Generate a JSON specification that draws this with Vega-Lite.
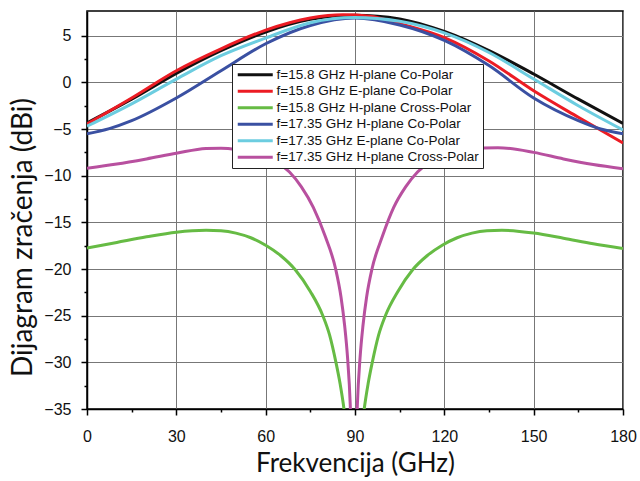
{
  "$schema": "https://vega.github.io/schema/vega-lite/v6.json",
  "width": 536,
  "height": 398,
  "autosize": "none",
  "padding": {"left": 87, "top": 11, "right": 17, "bottom": 72},
  "background": "white",
  "config": {
    "view": {"stroke": "black", "strokeWidth": 1.5},
    "axis": {
      "labelFont": "Liberation Sans",
      "labelFontSize": 16,
      "labelColor": "#111",
      "titleFont": "Lato",
      "titleFontSize": 26,
      "titleFontWeight": "normal",
      "titleColor": "#111",
      "domainColor": "black",
      "domainWidth": 1.5,
      "tickColor": "black",
      "tickWidth": 1.5,
      "gridColor": "#777777",
      "gridWidth": 1
    }
  },
  "data": {
    "values": [
      {"s": "f=15.8 GHz H-plane Co-Polar", "x": 0, "y": -4.35},
      {"s": "f=15.8 GHz H-plane Co-Polar", "x": 15, "y": -1.8},
      {"s": "f=15.8 GHz H-plane Co-Polar", "x": 30, "y": 0.97},
      {"s": "f=15.8 GHz H-plane Co-Polar", "x": 45, "y": 3.4},
      {"s": "f=15.8 GHz H-plane Co-Polar", "x": 60, "y": 5.4},
      {"s": "f=15.8 GHz H-plane Co-Polar", "x": 75, "y": 6.75},
      {"s": "f=15.8 GHz H-plane Co-Polar", "x": 90, "y": 7.2},
      {"s": "f=15.8 GHz H-plane Co-Polar", "x": 105, "y": 6.8},
      {"s": "f=15.8 GHz H-plane Co-Polar", "x": 120, "y": 5.45},
      {"s": "f=15.8 GHz H-plane Co-Polar", "x": 135, "y": 3.4},
      {"s": "f=15.8 GHz H-plane Co-Polar", "x": 150, "y": 0.9},
      {"s": "f=15.8 GHz H-plane Co-Polar", "x": 165, "y": -1.8},
      {"s": "f=15.8 GHz H-plane Co-Polar", "x": 180, "y": -4.4},

      {"s": "f=15.8 GHz E-plane Co-Polar", "x": 0, "y": -4.45},
      {"s": "f=15.8 GHz E-plane Co-Polar", "x": 15, "y": -1.67},
      {"s": "f=15.8 GHz E-plane Co-Polar", "x": 30, "y": 1.25},
      {"s": "f=15.8 GHz E-plane Co-Polar", "x": 45, "y": 3.6},
      {"s": "f=15.8 GHz E-plane Co-Polar", "x": 60, "y": 5.6},
      {"s": "f=15.8 GHz E-plane Co-Polar", "x": 75, "y": 6.9},
      {"s": "f=15.8 GHz E-plane Co-Polar", "x": 86, "y": 7.25},
      {"s": "f=15.8 GHz E-plane Co-Polar", "x": 95, "y": 7.1},
      {"s": "f=15.8 GHz E-plane Co-Polar", "x": 105, "y": 6.3},
      {"s": "f=15.8 GHz E-plane Co-Polar", "x": 120, "y": 4.8},
      {"s": "f=15.8 GHz E-plane Co-Polar", "x": 135, "y": 2.3},
      {"s": "f=15.8 GHz E-plane Co-Polar", "x": 150, "y": -0.9},
      {"s": "f=15.8 GHz E-plane Co-Polar", "x": 165, "y": -3.74},
      {"s": "f=15.8 GHz E-plane Co-Polar", "x": 180, "y": -6.5},

      {"s": "f=15.8 GHz H-plane Cross-Polar", "x": 0, "y": -17.75},
      {"s": "f=15.8 GHz H-plane Cross-Polar", "x": 10, "y": -17.15},
      {"s": "f=15.8 GHz H-plane Cross-Polar", "x": 20, "y": -16.55},
      {"s": "f=15.8 GHz H-plane Cross-Polar", "x": 30, "y": -16.05},
      {"s": "f=15.8 GHz H-plane Cross-Polar", "x": 40, "y": -15.85},
      {"s": "f=15.8 GHz H-plane Cross-Polar", "x": 45, "y": -15.9},
      {"s": "f=15.8 GHz H-plane Cross-Polar", "x": 50, "y": -16.15},
      {"s": "f=15.8 GHz H-plane Cross-Polar", "x": 55, "y": -16.65},
      {"s": "f=15.8 GHz H-plane Cross-Polar", "x": 60, "y": -17.45},
      {"s": "f=15.8 GHz H-plane Cross-Polar", "x": 65, "y": -18.55},
      {"s": "f=15.8 GHz H-plane Cross-Polar", "x": 70, "y": -20.1},
      {"s": "f=15.8 GHz H-plane Cross-Polar", "x": 75, "y": -22.4},
      {"s": "f=15.8 GHz H-plane Cross-Polar", "x": 79.2, "y": -25},
      {"s": "f=15.8 GHz H-plane Cross-Polar", "x": 81.5, "y": -27.1},
      {"s": "f=15.8 GHz H-plane Cross-Polar", "x": 83.6, "y": -30},
      {"s": "f=15.8 GHz H-plane Cross-Polar", "x": 85, "y": -32.3},
      {"s": "f=15.8 GHz H-plane Cross-Polar", "x": 86.3, "y": -35},
      {"s": "f=15.8 GHz H-plane Cross-Polar", "x": 87.5, "y": -38.5},
      {"s": "f=15.8 GHz H-plane Cross-Polar", "x": 89.7, "y": -50},
      {"s": "f=15.8 GHz H-plane Cross-Polar", "x": 91.9, "y": -38.5},
      {"s": "f=15.8 GHz H-plane Cross-Polar", "x": 93.1, "y": -35},
      {"s": "f=15.8 GHz H-plane Cross-Polar", "x": 94.4, "y": -32.3},
      {"s": "f=15.8 GHz H-plane Cross-Polar", "x": 95.8, "y": -30},
      {"s": "f=15.8 GHz H-plane Cross-Polar", "x": 97.9, "y": -27.1},
      {"s": "f=15.8 GHz H-plane Cross-Polar", "x": 100.2, "y": -25},
      {"s": "f=15.8 GHz H-plane Cross-Polar", "x": 104.4, "y": -22.4},
      {"s": "f=15.8 GHz H-plane Cross-Polar", "x": 109.3, "y": -20.1},
      {"s": "f=15.8 GHz H-plane Cross-Polar", "x": 114.3, "y": -18.55},
      {"s": "f=15.8 GHz H-plane Cross-Polar", "x": 119.3, "y": -17.45},
      {"s": "f=15.8 GHz H-plane Cross-Polar", "x": 124.3, "y": -16.65},
      {"s": "f=15.8 GHz H-plane Cross-Polar", "x": 129.3, "y": -16.15},
      {"s": "f=15.8 GHz H-plane Cross-Polar", "x": 134.3, "y": -15.9},
      {"s": "f=15.8 GHz H-plane Cross-Polar", "x": 139.3, "y": -15.85},
      {"s": "f=15.8 GHz H-plane Cross-Polar", "x": 150, "y": -16.15},
      {"s": "f=15.8 GHz H-plane Cross-Polar", "x": 160, "y": -16.7},
      {"s": "f=15.8 GHz H-plane Cross-Polar", "x": 170, "y": -17.3},
      {"s": "f=15.8 GHz H-plane Cross-Polar", "x": 180, "y": -17.8},

      {"s": "f=17.35 GHz H-plane Co-Polar", "x": 0, "y": -5.5},
      {"s": "f=17.35 GHz H-plane Co-Polar", "x": 7.5, "y": -4.95},
      {"s": "f=17.35 GHz H-plane Co-Polar", "x": 15, "y": -4.1},
      {"s": "f=17.35 GHz H-plane Co-Polar", "x": 30, "y": -1.67},
      {"s": "f=17.35 GHz H-plane Co-Polar", "x": 45, "y": 1.25},
      {"s": "f=17.35 GHz H-plane Co-Polar", "x": 60, "y": 4.14},
      {"s": "f=17.35 GHz H-plane Co-Polar", "x": 75, "y": 6.1},
      {"s": "f=17.35 GHz H-plane Co-Polar", "x": 90, "y": 6.9},
      {"s": "f=17.35 GHz H-plane Co-Polar", "x": 105, "y": 6.15},
      {"s": "f=17.35 GHz H-plane Co-Polar", "x": 120, "y": 4.5},
      {"s": "f=17.35 GHz H-plane Co-Polar", "x": 135, "y": 1.8},
      {"s": "f=17.35 GHz H-plane Co-Polar", "x": 150, "y": -1.67},
      {"s": "f=17.35 GHz H-plane Co-Polar", "x": 165, "y": -4.1},
      {"s": "f=17.35 GHz H-plane Co-Polar", "x": 172.5, "y": -5.0},
      {"s": "f=17.35 GHz H-plane Co-Polar", "x": 180, "y": -5.5},

      {"s": "f=17.35 GHz E-plane Co-Polar", "x": 0, "y": -4.7},
      {"s": "f=17.35 GHz E-plane Co-Polar", "x": 15, "y": -2.3},
      {"s": "f=17.35 GHz E-plane Co-Polar", "x": 30, "y": 0.35},
      {"s": "f=17.35 GHz E-plane Co-Polar", "x": 45, "y": 2.86},
      {"s": "f=17.35 GHz E-plane Co-Polar", "x": 60, "y": 4.75},
      {"s": "f=17.35 GHz E-plane Co-Polar", "x": 75, "y": 6.4},
      {"s": "f=17.35 GHz E-plane Co-Polar", "x": 90, "y": 6.95},
      {"s": "f=17.35 GHz E-plane Co-Polar", "x": 105, "y": 6.55},
      {"s": "f=17.35 GHz E-plane Co-Polar", "x": 120, "y": 5.3},
      {"s": "f=17.35 GHz E-plane Co-Polar", "x": 135, "y": 3.2},
      {"s": "f=17.35 GHz E-plane Co-Polar", "x": 150, "y": 0.36},
      {"s": "f=17.35 GHz E-plane Co-Polar", "x": 165, "y": -2.5},
      {"s": "f=17.35 GHz E-plane Co-Polar", "x": 180, "y": -5.1},

      {"s": "f=17.35 GHz H-plane Cross-Polar", "x": 0, "y": -9.2},
      {"s": "f=17.35 GHz H-plane Cross-Polar", "x": 10, "y": -8.75},
      {"s": "f=17.35 GHz H-plane Cross-Polar", "x": 20, "y": -8.2},
      {"s": "f=17.35 GHz H-plane Cross-Polar", "x": 30, "y": -7.6},
      {"s": "f=17.35 GHz H-plane Cross-Polar", "x": 40, "y": -7.08},
      {"s": "f=17.35 GHz H-plane Cross-Polar", "x": 45, "y": -7.05},
      {"s": "f=17.35 GHz H-plane Cross-Polar", "x": 50, "y": -7.2},
      {"s": "f=17.35 GHz H-plane Cross-Polar", "x": 55, "y": -7.6},
      {"s": "f=17.35 GHz H-plane Cross-Polar", "x": 60, "y": -8.0},
      {"s": "f=17.35 GHz H-plane Cross-Polar", "x": 64, "y": -8.6},
      {"s": "f=17.35 GHz H-plane Cross-Polar", "x": 68, "y": -9.6},
      {"s": "f=17.35 GHz H-plane Cross-Polar", "x": 72, "y": -11.2},
      {"s": "f=17.35 GHz H-plane Cross-Polar", "x": 76, "y": -13.4},
      {"s": "f=17.35 GHz H-plane Cross-Polar", "x": 80, "y": -16.5},
      {"s": "f=17.35 GHz H-plane Cross-Polar", "x": 83.5, "y": -20},
      {"s": "f=17.35 GHz H-plane Cross-Polar", "x": 85.3, "y": -23},
      {"s": "f=17.35 GHz H-plane Cross-Polar", "x": 86.5, "y": -26},
      {"s": "f=17.35 GHz H-plane Cross-Polar", "x": 87.5, "y": -29.5},
      {"s": "f=17.35 GHz H-plane Cross-Polar", "x": 88.4, "y": -34.5},
      {"s": "f=17.35 GHz H-plane Cross-Polar", "x": 89.6, "y": -50},
      {"s": "f=17.35 GHz H-plane Cross-Polar", "x": 90.8, "y": -34.5},
      {"s": "f=17.35 GHz H-plane Cross-Polar", "x": 91.7, "y": -29.5},
      {"s": "f=17.35 GHz H-plane Cross-Polar", "x": 92.7, "y": -26},
      {"s": "f=17.35 GHz H-plane Cross-Polar", "x": 93.9, "y": -23},
      {"s": "f=17.35 GHz H-plane Cross-Polar", "x": 95.7, "y": -20},
      {"s": "f=17.35 GHz H-plane Cross-Polar", "x": 99.2, "y": -16.5},
      {"s": "f=17.35 GHz H-plane Cross-Polar", "x": 103, "y": -13.4},
      {"s": "f=17.35 GHz H-plane Cross-Polar", "x": 107, "y": -11.2},
      {"s": "f=17.35 GHz H-plane Cross-Polar", "x": 111, "y": -9.6},
      {"s": "f=17.35 GHz H-plane Cross-Polar", "x": 115, "y": -8.55},
      {"s": "f=17.35 GHz H-plane Cross-Polar", "x": 120, "y": -7.7},
      {"s": "f=17.35 GHz H-plane Cross-Polar", "x": 128, "y": -7.12},
      {"s": "f=17.35 GHz H-plane Cross-Polar", "x": 138, "y": -7.0},
      {"s": "f=17.35 GHz H-plane Cross-Polar", "x": 150, "y": -7.5},
      {"s": "f=17.35 GHz H-plane Cross-Polar", "x": 160, "y": -8.2},
      {"s": "f=17.35 GHz H-plane Cross-Polar", "x": 170, "y": -8.8},
      {"s": "f=17.35 GHz H-plane Cross-Polar", "x": 180, "y": -9.25}
    ]
  },
  "mark": {"type": "line", "strokeWidth": 3, "interpolate": "monotone", "clip": true},
  "encoding": {
    "x": {
      "field": "x",
      "type": "quantitative",
      "scale": {"domain": [0, 180], "nice": false, "zero": false},
      "axis": {
        "title": "Frekvencija (GHz)",
        "values": [0, 15, 30, 45, 60, 75, 90, 105, 120, 135, 150, 165, 180],
        "labelExpr": "datum.value % 30 === 0 ? datum.label : ''",
        "tickSize": {"condition": {"test": "datum.value % 30 === 0", "value": 6}, "value": 3},
        "gridOpacity": {"condition": {"test": "datum.value % 30 === 0", "value": 1}, "value": 0},
        "labelPadding": 13,
        "labelFlush": false,
        "titlePadding": 6
      }
    },
    "y": {
      "field": "y",
      "type": "quantitative",
      "scale": {"domain": [-35, 7.65], "nice": false, "zero": false},
      "axis": {
        "title": "Dijagram zračenja (dBi)",
        "titleFontSize": 28,
        "titleY": 226,
        "values": [-35, -32.5, -30, -27.5, -25, -22.5, -20, -17.5, -15, -12.5, -10, -7.5, -5, -2.5, 0, 2.5, 5],
        "labelExpr": "datum.value % 5 === 0 ? datum.label : ''",
        "tickSize": {"condition": {"test": "datum.value % 5 === 0", "value": 6}, "value": 3},
        "gridOpacity": {"condition": {"test": "datum.value % 5 === 0", "value": 1}, "value": 0},
        "labelPadding": 10,
        "labelFlush": false,
        "titlePadding": 6
      }
    },
    "color": {
      "field": "s",
      "type": "nominal",
      "sort": null,
      "scale": {
        "domain": [
          "f=15.8 GHz H-plane Co-Polar",
          "f=15.8 GHz E-plane Co-Polar",
          "f=15.8 GHz H-plane Cross-Polar",
          "f=17.35 GHz H-plane Co-Polar",
          "f=17.35 GHz E-plane Co-Polar",
          "f=17.35 GHz H-plane Cross-Polar"
        ],
        "range": ["#111111", "#ec1c24", "#66bb44", "#3a50a2", "#6ccde0", "#b8509f"]
      },
      "legend": {
        "title": null,
        "orient": "none",
        "legendX": 145,
        "legendY": 53,
        "fillColor": "white",
        "strokeColor": "#222",
        "padding": 4,
        "symbolType": "M-1,0H6",
        "symbolSize": 100,
        "symbolStrokeWidth": 3,
        "labelOffset": 27,
        "labelFont": "Liberation Sans",
        "labelFontSize": 13.5,
        "labelColor": "#111",
        "labelLimit": 400,
        "rowPadding": 1.5
      }
    }
  }
}
